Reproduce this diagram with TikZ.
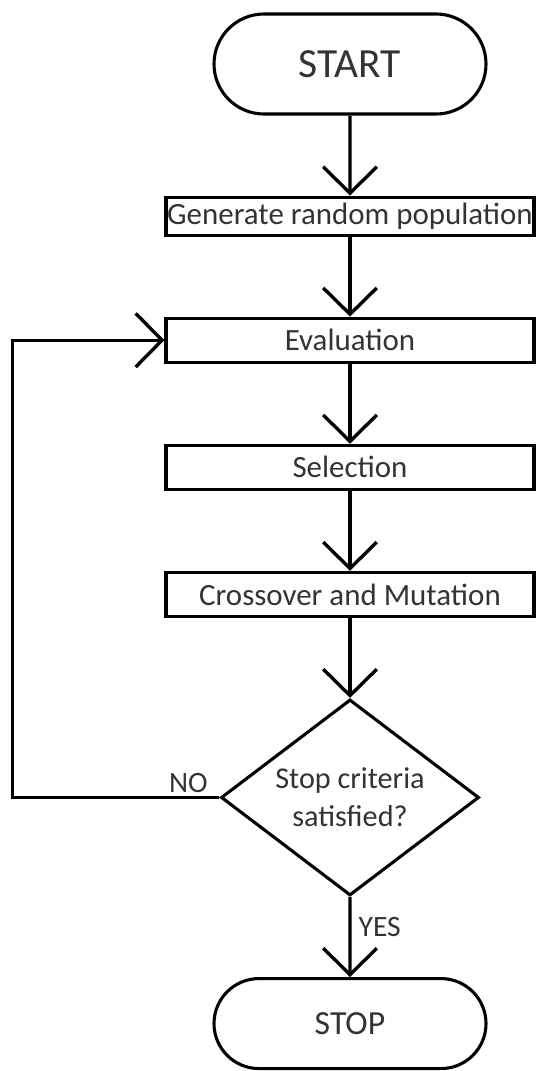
\documentclass[tikz,border=0pt]{standalone}
\usepackage{fontspec}
\setmainfont{Carlito}
\usepackage{xcolor}
\usetikzlibrary{arrows.meta,positioning,shapes.geometric,shapes.misc}
\definecolor{Ink}{HTML}{333333}

\begin{document}
\begin{tikzpicture}[
  node distance=2cm,
  every node/.style={text=Ink},
  procstep/.style={draw=black,line width=2.2pt,rectangle,minimum width=9.2cm,minimum height=1.1cm,inner sep=0pt,font=\fontsize{22}{26}\selectfont},
  terminal/.style={draw=black,line width=2.2pt,rounded rectangle,minimum width=6.8cm,inner sep=0pt},
  decision/.style={draw=black,line width=2.2pt,diamond,minimum width=6.45cm,minimum height=4.9cm,inner sep=-8pt,align=center,font=\fontsize{21.5}{27}\selectfont},
  flowlabel/.style={font=\fontsize{21}{25}\selectfont,inner sep=2pt},
  arrow/.style={-{Straight Barb[length=0.66cm,width=1.34cm]},line width=2.4pt,draw=black}
]
\useasboundingbox (0,0) rectangle (13.4,-26.775);
\node[terminal,minimum height=2.5cm,font=\fontsize{29.5}{34}\selectfont] (start) at (8.75,-1.6) {START};
\node[procstep,below=of start,minimum height=0.95cm] (gen) {Generate random population};
\node[procstep,below=of gen] (eval) {Evaluation};
\node[procstep,below=of eval] (sel) {Selection};
\node[procstep,below=of sel] (cross) {Crossover and Mutation};
\node[decision,below=of cross] (stopq) {Stop criteria\\satisfied?};
\node[terminal,below=of stopq,minimum height=2.25cm,font=\fontsize{24}{28}\selectfont] (stop) {STOP};
\foreach \x/\y in {start/gen,gen/eval,eval/sel,sel/cross,cross/stopq} \draw[arrow] (\x) -- (\y);
\draw[arrow] (stopq) -- node[flowlabel,right,pos=0.37,xshift=3pt] {YES} (stop);
\draw[arrow] (stopq.west) -- node[flowlabel,above,pos=0.15] {NO} ++(-5.175,0) |- (eval.west);
\end{tikzpicture}
\end{document}
